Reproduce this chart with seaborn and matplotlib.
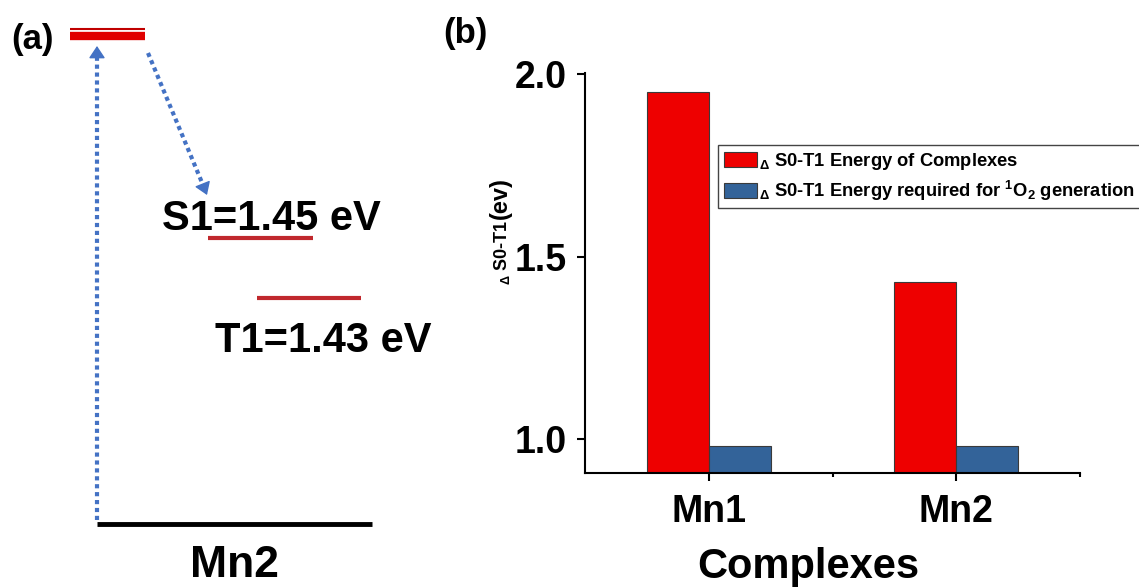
import pandas as pd
import seaborn as sns
import matplotlib.pyplot as plt
from matplotlib.ticker import FixedLocator

# ---- data ----
complexes = ["Mn1", "Mn2"]
complex_energy = [1.95, 1.43]     # S0-T1 energy of complexes (eV)
required_energy = [0.98, 0.98]    # energy required for 1O2 generation (eV)
series_labels = [r"$_{Δ}$ S0-T1 Energy of Complexes",
                 r"$_{Δ}$ S0-T1 Energy required for $^{1}$O$_{2}$ generation"]
y_ticks = [1.0, 1.5, 2.0]

# panel (a) energy levels
level_names = ["S1", "T1"]
level_energy = [1.45, 1.43]
diagram_complex = "Mn2"

RED = "#ee0000"
BLUE = "#336399"
ARROW_BLUE = "#4472c4"
LEVEL_RED = "#c0282d"

sns.set_style("ticks")
plt.rcParams["font.family"] = ["Liberation Sans", "DejaVu Sans"]
plt.rcParams["font.weight"] = "bold"
plt.rcParams["text.color"] = "black"
plt.rcParams["axes.labelcolor"] = "black"
plt.rcParams["xtick.color"] = "black"
plt.rcParams["ytick.color"] = "black"
plt.rcParams["axes.edgecolor"] = "black"
plt.rcParams["mathtext.fontset"] = "custom"
plt.rcParams["mathtext.rm"] = "Liberation Sans"
plt.rcParams["mathtext.bf"] = "Liberation Sans:bold"
plt.rcParams["mathtext.default"] = "bf"

W, H = 1139, 587
fig = plt.figure(figsize=(W / 100, H / 100), dpi=100)

# ---- panel (a): schematic level diagram, laid out in pixel units ----
ax_a = fig.add_axes([0, 0, 450 / W, 1])
ax_a.set_xlim(0, 450)
ax_a.set_ylim(H, 0)
ax_a.axis("off")

# excited level at top (double red bar)
ax_a.plot([70, 145], [29, 29], color="#c00000", lw=1.5, solid_capstyle="butt")
ax_a.plot([70, 145], [36, 36], color="#e00000", lw=6, solid_capstyle="butt")

# ground level
ax_a.plot([97, 372], [524, 524], color="black", lw=3.5, solid_capstyle="butt")

level_layout = {
    "S1": dict(x0=208, x1=313, y=238, tx=162, ty=230),
    "T1": dict(x0=257, x1=361, y=298, tx=215, ty=352),
}
for name, en in zip(level_names, level_energy):
    lay = level_layout[name]
    ax_a.plot([lay["x0"], lay["x1"]], [lay["y"], lay["y"]], color=LEVEL_RED,
              lw=3, solid_capstyle="butt")
    ax_a.text(lay["tx"], lay["ty"], f"{name}={en:.2f} eV", fontsize=30,
              fontweight="bold", ha="left", va="baseline")


def dotted_arrow(start, tip, head_base):
    # dotted shaft up to the head, then a solid filled head
    ax_a.plot([start[0], head_base[0]], [start[1], head_base[1]], color=ARROW_BLUE,
              lw=3, linestyle=(0, (1, 0.9)), dash_capstyle="butt")
    ax_a.annotate("", xy=tip, xytext=head_base,
                  arrowprops=dict(arrowstyle="-|>,head_length=0.75,head_width=0.5",
                                  color=ARROW_BLUE, lw=1, shrinkA=0, shrinkB=0))


dotted_arrow((97, 520), (97, 46), (97, 57))
dotted_arrow((148, 53), (207, 195), (203, 185))

ax_a.text(234, 577, diagram_complex, fontsize=32, fontweight="bold",
          ha="center", va="baseline")
ax_a.text(11, 40, "(a)", fontsize=25, fontweight="bold", ha="left", va="center")

# ---- panel (b): bar chart ----
ax = fig.add_axes([585 / W, (H - 473) / H, 495 / W, 400 / H])
df = pd.DataFrame({
    "Complex": complexes * 2,
    "Series": [series_labels[0]] * len(complexes) + [series_labels[1]] * len(complexes),
    "Energy": complex_energy + required_energy,
})
sns.barplot(data=df, x="Complex", y="Energy", hue="Series", palette=[RED, BLUE],
            saturation=1, width=0.5, edgecolor="#3a3a3a", linewidth=0.8, ax=ax)

ax.set_xlim(-0.5, 1.5)
ax.set_ylim(0.907, 2.003)
ax.set_yticks(y_ticks)
ax.set_yticklabels([f"{t:.1f}" for t in y_ticks])
ax.xaxis.set_minor_locator(FixedLocator([0.5, 1.5]))
ax.set_xlabel("")
ax.set_ylabel("")
for s in ["top", "right"]:
    ax.spines[s].set_visible(False)
for s in ["left", "bottom"]:
    ax.spines[s].set_linewidth(1.5)
ax.tick_params(axis="both", which="major", direction="out", length=6, width=1.5,
               labelsize=27, color="black", labelcolor="black")
ax.tick_params(axis="y", pad=7)
ax.tick_params(axis="x", pad=9)
ax.tick_params(axis="x", which="minor", direction="out", length=3, width=1.5)
for lab in ax.get_xticklabels() + ax.get_yticklabels():
    lab.set_fontweight("bold")

handles, labels = ax.get_legend_handles_labels()
ax.legend(handles, labels, loc="upper left", bbox_to_anchor=(718 / W, 1 - 145 / H),
          bbox_transform=fig.transFigure, frameon=True,
          fancybox=False, edgecolor="#444444", framealpha=1, borderpad=0.3,
          borderaxespad=0, handlelength=1.8, handleheight=0.9,
          handletextpad=0.15, labelspacing=0.4, prop={"weight": "bold", "size": 13.2})
ax.get_legend().get_frame().set_linewidth(1.0)

# axis titles
fig.text(808 / W, (H - 578) / H, "Complexes", fontsize=30, fontweight="bold",
         ha="center", va="baseline")
fig.text(507 / W, 1 - 252 / H, r"$_{Δ}$ S0-T1", fontsize=13, fontweight="bold",
         rotation=90, rotation_mode="anchor", ha="center", va="baseline")
fig.text(507 / W, 1 - 198 / H, "(ev)", fontsize=17, fontweight="bold",
         rotation=90, rotation_mode="anchor", ha="center", va="baseline")
fig.text(443 / W, 1 - 34 / H, "(b)", fontsize=25, fontweight="bold",
         ha="left", va="center")

fig.savefig("out.png", dpi=100)
